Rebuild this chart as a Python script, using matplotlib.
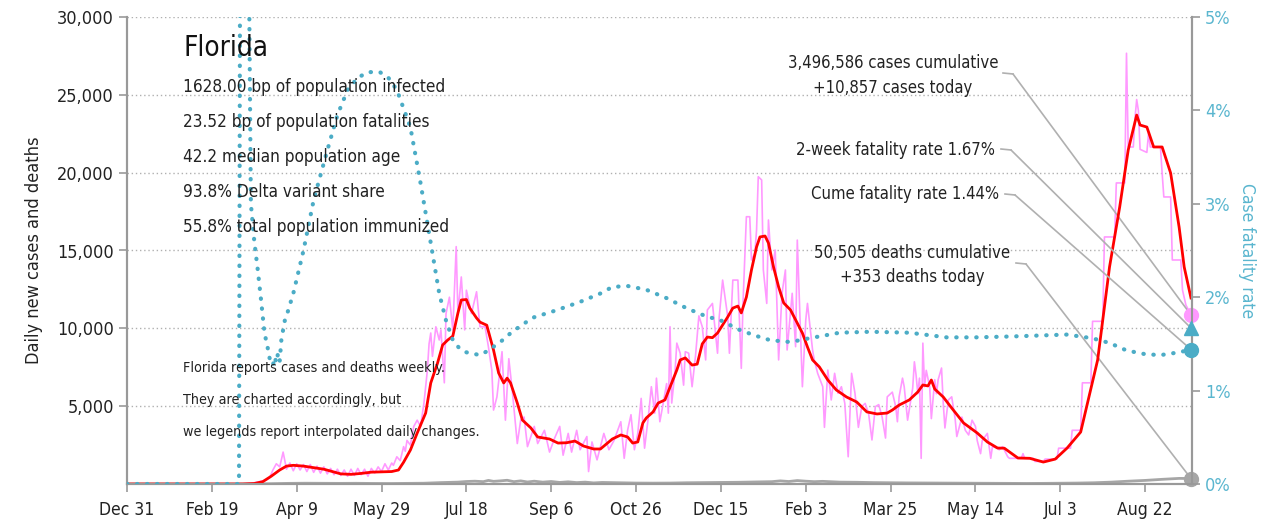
import matplotlib
matplotlib.use("Agg")
import matplotlib.pyplot as plt
import matplotlib.dates as mdates
import numpy as np
import pandas as pd
from matplotlib import font_manager

# day offsets are counted from Dec 31, 2019
START = np.datetime64("2019-12-31")

# daily reported cases (day, cases)
case_points = [
    (0, 0), (68, 0), (74, 60), (78, 150), (82, 250), (84, 400), (86, 900), (88, 1300), (90, 1100),
    (92, 2050), (94, 950), (96, 1350), (98, 850), (100, 1300), (102, 900), (104, 1250), (106, 800),
    (108, 1250), (110, 750), (112, 1150), (114, 700), (116, 1100), (118, 650), (120, 1000), (122, 600),
    (124, 950), (126, 550), (128, 900), (130, 500), (132, 950), (134, 550), (136, 1000), (138, 600),
    (140, 950), (142, 500), (144, 1000), (146, 700), (148, 1100), (150, 800), (152, 1300), (154, 900),
    (156, 1350), (157, 1200), (159, 1750), (161, 1500), (163, 2400), (164, 2100), (165, 2800),
    (167, 2500), (169, 3700), (171, 4100), (173, 3700), (175, 5200), (177, 7300), (178, 9000),
    (179, 9700), (180, 8200), (182, 10100), (184, 9250), (185, 9900), (187, 6500), (188, 10950),
    (190, 12000), (192, 9900), (194, 15250), (195, 10950), (197, 13300), (199, 9900), (200, 12450),
    (203, 10950), (206, 12350), (208, 10100), (211, 10100), (213, 8800), (215, 7300), (216, 4750),
    (218, 5600), (221, 8500), (223, 4100), (225, 8050), (227, 6050), (230, 2600), (232, 4100),
    (234, 4300), (236, 2400), (240, 3700), (242, 2600), (246, 3450), (249, 2050), (252, 2950),
    (255, 3700), (257, 1850), (260, 3250), (262, 2050), (265, 3450), (267, 2200), (271, 3050),
    (272, 800), (274, 2700), (277, 1550), (281, 3250), (284, 2200), (287, 2800), (291, 4000),
    (293, 1650), (295, 3450), (297, 4450), (299, 2200), (301, 3250), (303, 5500), (305, 2300),
    (307, 4100), (309, 6250), (311, 4550), (312, 6800), (314, 4000), (316, 5200), (318, 6450),
    (319, 4550), (320, 10100), (321, 5200), (323, 7300), (324, 9050), (326, 8400), (328, 6350),
    (329, 8500), (331, 8400), (333, 6250), (335, 8200), (337, 10800), (339, 10100), (341, 7970),
    (342, 11180), (345, 11600), (348, 8400), (349, 10750), (351, 13100), (354, 10750), (355, 8400),
    (357, 13100), (360, 13100), (362, 7430), (363, 11600), (365, 17170), (367, 17170), (368, 14390),
    (370, 14820), (371, 16320), (372, 19740), (374, 19530), (375, 13750), (377, 11600), (378, 16960),
    (380, 13750), (382, 15030), (384, 7970), (386, 12250), (388, 13750), (389, 8610), (392, 12250),
    (394, 8820), (395, 15670), (398, 6250), (400, 10540), (401, 11600), (404, 8610), (405, 7970),
    (407, 7110), (410, 6250), (411, 3640), (413, 7320), (415, 5400), (417, 7110), (419, 5830),
    (421, 6250), (423, 5180), (425, 1750), (427, 7110), (429, 5830), (431, 3640), (433, 4970),
    (435, 5180), (437, 4540), (439, 2830), (441, 4970), (443, 5100), (445, 4300), (447, 2950),
    (448, 5600), (451, 5900), (453, 4970), (454, 4000), (455, 5600), (457, 6800), (458, 6250),
    (460, 4100), (463, 6150), (464, 7850), (465, 7000), (466, 5800), (467, 6800), (468, 1650),
    (469, 9050), (470, 6250), (471, 7300), (473, 6250), (474, 4200), (476, 6700), (477, 5800),
    (478, 6700), (480, 7450), (481, 5200), (482, 3600), (484, 5400), (486, 5600), (488, 4200),
    (489, 3050), (492, 4300), (494, 3450), (496, 3150), (498, 4100), (500, 3700), (501, 2800),
    (503, 1950), (504, 2800), (507, 3250), (509, 1650), (510, 2400), (513, 2300), (514, 2200),
    (516, 2400), (519, 1750), (520, 1650), (527, 1650), (528, 1950), (529, 1650), (534, 1650),
    (535, 1450), (540, 1450), (541, 1600), (548, 1600), (549, 2300), (556, 2300), (557, 3450),
    (562, 3450), (563, 6500), (568, 6500), (569, 10450), (575, 10450), (576, 15870), (582, 15870),
    (583, 19340), (588, 19340), (589, 27670), (590, 21650), (593, 21650), (594, 23500), (595, 24700),
    (596, 24000), (597, 21500), (601, 21300), (602, 22550), (603, 21650), (609, 21650), (610, 19980),
    (611, 18440), (615, 18440), (616, 14390), (621, 14390), (622, 12460), (624, 11500), (627, 10857),
]

# 7-day average of cases (day, cases)
avg_points = [
    (0, 0), (68, 0), (75, 30), (80, 150), (85, 500), (90, 900), (94, 1150), (98, 1200), (104, 1150),
    (110, 1050), (116, 950), (121, 800), (126, 650), (132, 620), (138, 680), (144, 760), (150, 780),
    (156, 800), (160, 900), (163, 1400), (167, 2180), (171, 3270), (176, 4560), (179, 6490),
    (183, 7770), (186, 8930), (189, 9250), (192, 9500), (195, 10980), (197, 11820), (200, 11850),
    (202, 11300), (206, 10660), (208, 10400), (212, 10200), (216, 8600), (219, 7130), (222, 6490),
    (224, 6800), (226, 6500), (230, 5200), (233, 4110), (238, 3600), (242, 3020), (249, 2890),
    (254, 2630), (259, 2650), (264, 2760), (269, 2440), (275, 2250), (279, 2250), (286, 2890),
    (291, 3150), (295, 3020), (298, 2630), (301, 2700), (304, 3920), (306, 4240), (310, 4630),
    (313, 5200), (317, 5400), (320, 6230), (324, 7320), (326, 7970), (329, 8100), (333, 7640),
    (336, 7700), (339, 9000), (342, 9440), (345, 9400), (348, 9700), (354, 10730), (357, 11300),
    (360, 11430), (362, 10990), (365, 12010), (368, 13750), (371, 15230), (373, 15870), (376, 15930),
    (378, 15480), (381, 13940), (384, 12660), (387, 11630), (391, 11180), (395, 10340), (398, 9700),
    (401, 8800), (404, 7970), (408, 7520), (413, 6680), (418, 6040), (424, 5590), (430, 5270),
    (436, 4630), (442, 4500), (448, 4560), (451, 4750), (455, 5070), (461, 5400), (466, 5910),
    (469, 6360), (472, 6300), (474, 6680), (476, 6100), (481, 5590), (486, 4880), (493, 3920),
    (501, 3280), (507, 2700), (513, 2310), (517, 2300), (525, 1670), (532, 1650), (540, 1410),
    (547, 1600), (554, 2310), (562, 3340), (566, 5200), (572, 7970), (575, 10540), (579, 13940),
    (585, 17800), (590, 21450), (595, 23700), (597, 23060), (601, 22930), (605, 21650), (610, 21650),
    (615, 19980), (620, 16510), (623, 13940), (627, 11950),
]

# daily deaths (day, deaths)
death_points = [
    (0, 0), (66, 0), (75, 5), (85, 20), (95, 40), (105, 50), (115, 45), (125, 40), (135, 45),
    (145, 35), (155, 30), (165, 40), (175, 50), (185, 90), (195, 120), (200, 160), (205, 180),
    (210, 150), (213, 230), (216, 170), (220, 200), (224, 240), (228, 150), (232, 200), (236, 130),
    (240, 180), (245, 120), (250, 160), (255, 100), (260, 140), (265, 90), (270, 120), (275, 70),
    (280, 100), (290, 80), (300, 60), (310, 55), (320, 60), (330, 80), (340, 90), (350, 100),
    (360, 110), (370, 130), (380, 150), (385, 200), (390, 160), (395, 220), (400, 180), (405, 150),
    (410, 170), (420, 120), (430, 110), (440, 90), (450, 80), (460, 70), (470, 65), (480, 60),
    (490, 55), (500, 50), (510, 45), (520, 40), (530, 35), (540, 40), (550, 50), (560, 60),
    (570, 80), (580, 120), (590, 180), (600, 230), (610, 300), (620, 360), (627, 353),
]

# case fatality rate in percent (day, pct)
cfr_points = [
    (0, 0), (66, 0), (67, 9), (71, 9), (72, 5.2), (73, 3.0), (75, 2.6), (77, 2.3), (79, 1.97),
    (81, 1.62), (83, 1.45), (84, 1.35), (86, 1.27), (87, 1.36), (88, 1.3), (89, 1.4), (90, 1.32),
    (91, 1.55), (93, 1.75), (94, 1.8), (98, 2.04), (104, 2.5), (110, 3.04), (118, 3.57), (124, 3.95),
    (130, 4.22), (136, 4.35), (142, 4.41), (149, 4.41), (154, 4.35), (159, 4.22), (167, 3.82),
    (173, 3.22), (179, 2.58), (184, 2.04), (188, 1.75), (192, 1.54), (196, 1.45), (200, 1.41),
    (208, 1.38), (212, 1.42), (220, 1.52), (227, 1.63), (239, 1.78), (253, 1.86), (267, 1.95),
    (279, 2.04), (286, 2.11), (295, 2.12), (306, 2.08), (318, 1.99), (330, 1.88), (342, 1.79),
    (349, 1.76), (361, 1.65), (370, 1.59), (379, 1.54), (391, 1.52), (402, 1.56), (420, 1.62),
    (438, 1.63), (461, 1.62), (483, 1.57), (500, 1.57), (522, 1.58), (554, 1.6), (569, 1.56),
    (579, 1.51), (589, 1.43), (600, 1.39), (609, 1.38), (620, 1.41), (627, 1.44),
]

last_cases = 10857
last_deaths = 353
two_week_cfr = 1.67
cume_cfr = 1.44

title = "Florida"
info_lines = [
    "1628.00 bp of population infected",
    "23.52 bp of population fatalities",
    "42.2 median population age",
    "93.8% Delta variant share",
    "55.8% total population immunized",
]
note_lines = [
    "Florida reports cases and deaths weekly.",
    "They are charted accordingly, but",
    "we legends report interpolated daily changes.",
]
cases_label = "3,496,586 cases cumulative\n+10,857 cases today"
two_week_label = "2-week fatality rate 1.67%"
cume_label = "Cume fatality rate 1.44%"
deaths_label = "50,505 deaths cumulative\n+353 deaths today"

PINK = "#ff99ff"
RED = "#ff0000"
BLUE = "#4bacc6"
BLUE_TXT = "#5ab6cf"
GRAY = "#a6a6a6"
TXT = "#222222"

avail = {f.name for f in font_manager.fontManager.ttflist}
for fam in ["Liberation Sans Narrow", "DejaVu Sans"]:
    if fam in avail:
        plt.rcParams["font.family"] = fam
        break
if "Liberation Sans Narrow" not in avail:
    plt.rcParams["font.stretch"] = "condensed"


def split(points):
    days, vals = zip(*points)
    return START + np.array(days, dtype="timedelta64[D]"), np.array(vals, dtype=float)


case_x, case_y = split(case_points)
avg_x, avg_y = split(avg_points)
death_x, death_y = split(death_points)
cfr_x, cfr_y = split(cfr_points)
last_x = case_x[-1]

fig = plt.figure(figsize=(12.68, 5.24), dpi=100)
ax = fig.add_axes([127 / 1268, 40 / 524, 1065 / 1268, 467 / 524])
ax2 = ax.twinx()

ax.plot(case_x, case_y, color=PINK, lw=1.2, zorder=2)
ax.plot(death_x, death_y, color=GRAY, lw=2, zorder=3)
ax.plot(avg_x, avg_y, color=RED, lw=2, zorder=4)
ax.plot([last_x], [last_cases], "o", color=PINK, ms=10, clip_on=False, zorder=6)
ax.plot([last_x], [last_deaths], "o", color=GRAY, ms=10, clip_on=False, zorder=6)

ax2.plot(cfr_x, cfr_y, color=BLUE, lw=3, linestyle=(0, (0.1, 2.3)),
         dash_capstyle="round", zorder=3)
ax2.plot([last_x], [two_week_cfr], "^", color=BLUE, ms=10, clip_on=False, zorder=6)
ax2.plot([last_x], [cume_cfr], "o", color=BLUE, ms=10, clip_on=False, zorder=6)

x0 = mdates.date2num(pd.Timestamp(START))
ax.set_xlim(x0, x0 + 627.6)
ax.set_ylim(0, 30000)
ax2.set_ylim(0, 5)

ticks = START + np.arange(0, 601, 50).astype("timedelta64[D]")
ax.set_xticks(ticks)
ax.set_xticklabels([f"{pd.Timestamp(t):%b} {pd.Timestamp(t).day}" for t in ticks])
ax.set_yticks(np.arange(5000, 30001, 5000))
ax.set_yticklabels([f"{v:,}" for v in range(5000, 30001, 5000)])
ax2.set_yticks(range(0, 6))
ax2.set_yticklabels([f"{v}%" for v in range(0, 6)])

for y in range(5000, 30001, 5000):
    ax.axhline(y, color="#b0b0b0", lw=1, ls=(0, (1, 2)), zorder=1)

for a in (ax, ax2):
    a.spines["top"].set_visible(False)
    for s in ("left", "right", "bottom"):
        a.spines[s].set_color("#999999")
        a.spines[s].set_linewidth(1.5)
ax.tick_params(axis="x", colors="#999999", labelcolor=TXT, labelsize=12.5, length=6, width=1.2, pad=6)
ax.tick_params(axis="y", colors="#999999", labelcolor=TXT, labelsize=13, length=6, width=1.2)
ax2.tick_params(axis="y", colors="#999999", labelcolor=BLUE_TXT, labelsize=13, length=6, width=1.2)
ax.set_ylabel("Daily new cases and deaths", fontsize=13, color=TXT, labelpad=10)
ax2.set_ylabel("Case fatality rate", fontsize=12.5, color=BLUE_TXT, rotation=270, labelpad=18)


def ax_frac(px, py):
    return (px - 127) / 1065, (484 - py) / 467


tx, ty = ax_frac(183, 48)
ax2.text(tx, ty, title, transform=ax.transAxes, fontsize=20, color="#111111", va="center")
for i, line in enumerate(info_lines):
    tx, ty = ax_frac(183, 87 + 35 * i)
    ax2.text(tx, ty, line, transform=ax.transAxes, fontsize=12.3, color=TXT, va="center")
for i, line in enumerate(note_lines):
    tx, ty = ax_frac(183, 368 + 32 * i)
    ax2.text(tx, ty, line, transform=ax.transAxes, fontsize=10.3, color=TXT, va="center")

labels = [
    (cases_label, (998, 75.5), (1003, 73), (1013, 74), ax, last_cases),
    (two_week_label, (995, 150), (1001, 149), (1011, 150), ax2, two_week_cfr),
    (cume_label, (999, 194), (1005, 194), (1015, 195), ax2, cume_cfr),
    (deaths_label, (1010, 265), (1016, 263), (1026, 264), ax, last_deaths),
]
for text, tpos, p1, p2, target, val in labels:
    tx, ty = ax_frac(*tpos)
    ax2.text(tx, ty, text, transform=ax.transAxes, fontsize=12, color=TXT,
             ha="right", va="center", multialignment="center", linespacing=1.45)
    a1, a2 = ax_frac(*p1), ax_frac(*p2)
    ax2.plot([a1[0], a2[0]], [a1[1], a2[1]], transform=ax.transAxes, color="#b0b0b0", lw=1.2)
    target.annotate("", xy=(last_x, val), xycoords="data", xytext=a2, textcoords="axes fraction",
                    arrowprops=dict(arrowstyle="-", color="#b0b0b0", lw=1.2, shrinkA=0, shrinkB=0),
                    annotation_clip=False)

fig.savefig("out.png", dpi=100)
